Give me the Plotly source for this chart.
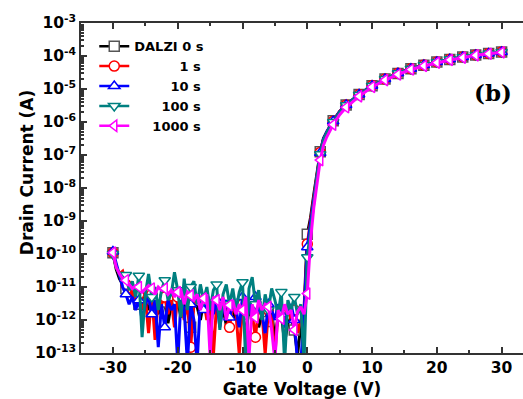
import plotly.graph_objects as go

# Gate voltage sweep (V)
v_off = [-30, -29.5, -29, -28.5, -28, -27.5, -27, -26.5, -26, -25.5,
         -25, -24.5, -24, -23.5, -23, -22.5, -22, -21.5, -21, -20.5,
         -20, -19.5, -19, -18.5, -18, -17.5, -17, -16.5, -16, -15.5,
         -15, -14.5, -14, -13.5, -13, -12.5, -12, -11.5, -11, -10.5,
         -10, -9.5, -9, -8.5, -8, -7.5, -7, -6.5, -6, -5.5,
         -5, -4.5, -4, -3.5, -3, -2.5, -2, -1.5, -1, -0.5,
         0]
v_on = [0.5, 1, 1.5, 2, 2.5, 3, 4, 5, 6, 8, 10, 12, 14, 16, 18, 20, 22, 24, 26, 28, 30]

# Drain current (A)
i_0s_off = [1.1e-10, 3.5e-11, 1.8e-11, 1.2e-11, 9e-12, 7e-12, 5e-12, 6e-12, 3e-12, 5e-12,
            4e-12, 2e-12, 4.5e-12, 3e-12, 1.5e-12, 4e-12, 3.5e-12, 8e-13, 3e-12, 2.5e-12,
            4e-12, 1.2e-12, 3e-12, 2e-12, 6e-13, 3e-12, 2.5e-12, 1e-12, 3.5e-12, 2e-12,
            5e-13, 2.5e-12, 3e-12, 1.5e-12, 2.2e-12, 7e-13, 2.5e-12, 1.8e-12, 1e-12, 2.8e-12,
            1.5e-12, 4e-13, 2e-12, 1.2e-12, 2.2e-12, 6e-13, 1.5e-12, 2e-12, 9e-13, 1.6e-12,
            3e-13, 1.2e-12, 1.5e-12, 2e-13, 8e-13, 1.2e-12, 5e-13, 9e-14, 7e-13, 2e-12,
            4e-10]
i_0s_on = [1.26e-9, 6.3e-9, 3.2e-8, 1.26e-7, 3.2e-7, 5e-7, 1.1e-6, 2.1e-6, 3.3e-6, 6.8e-6,
           1.26e-5, 2e-5, 2.95e-5, 4.1e-5, 5.2e-5, 6.6e-5, 7.9e-5, 9.3e-5, 1.07e-4, 1.2e-4, 1.32e-4]

i_1s_off = [1.1e-10, 4e-11, 2.5e-11, 3e-11, 1.2e-11, 5e-12, 8e-12, 3e-12, 6e-12, 2e-12,
            5e-12, 4e-13, 6e-12, 2.5e-13, 4e-12, 3e-12, 5e-12, 1.5e-12, 4e-12, 6e-13,
            5e-12, 3e-12, 1e-12, 4e-12, 1.5e-13, 3e-12, 6e-12, 2e-12, 4e-12, 1e-12,
            3.5e-12, 8e-14, 3e-12, 2e-12, 4.5e-12, 2e-12, 6e-13, 3e-12, 1.5e-12, 9e-14,
            3e-12, 2e-12, 3.5e-12, 1.5e-12, 3e-13, 2.5e-12, 1.8e-12, 9e-14, 2e-12, 1.2e-12,
            8e-14, 2e-12, 1.5e-12, 6e-13, 2.5e-12, 1e-12, 2e-12, 4e-13, 1e-12, 1.5e-12,
            2e-10]
i_1s_on = [1e-9, 5.5e-9, 2.8e-8, 1.2e-7, 3e-7, 5e-7, 1.05e-6, 2.1e-6, 3.3e-6, 6.8e-6,
           1.27e-5, 2e-5, 3e-5, 4.1e-5, 5.3e-5, 6.6e-5, 8e-5, 9.3e-5, 1.08e-4, 1.2e-4, 1.33e-4]

i_10s_off = [1.2e-10, 5e-11, 2e-11, 1e-11, 6e-12, 3e-12, 5e-12, 2e-12, 4e-12, 1e-12,
             3e-12, 5e-12, 1.5e-12, 4e-12, 1.5e-13, 3e-12, 6e-13, 4e-12, 2e-12, 3e-12,
             5e-14, 4e-12, 2e-12, 5e-14, 3e-12, 1e-12, 5e-14, 4e-12, 2e-12, 6e-12,
             3e-12, 1.5e-12, 4e-12, 6e-13, 2.5e-12, 4e-12, 1.2e-12, 3e-12, 2e-12, 6e-13,
             5e-12, 2e-12, 3.5e-12, 1e-12, 5e-12, 2e-12, 1.5e-12, 4e-13, 3e-12, 2e-12,
             1e-12, 3e-12, 1.5e-12, 6e-13, 2e-12, 3e-12, 1e-12, 5e-14, 5e-14, 1.5e-12,
             1.6e-10]
i_10s_on = [9e-10, 5e-9, 2.6e-8, 1.15e-7, 3e-7, 5e-7, 1.05e-6, 2.05e-6, 3.3e-6, 6.8e-6,
            1.26e-5, 2e-5, 3e-5, 4.1e-5, 5.3e-5, 6.6e-5, 8e-5, 9.3e-5, 1.07e-4, 1.2e-4, 1.33e-4]

i_100s_off = [1e-10, 4e-11, 2.5e-11, 1.5e-11, 2.3e-11, 8e-12, 1.5e-11, 5e-12, 2.2e-11, 3e-13,
              6e-12, 2.5e-11, 5e-12, 1e-11, 2e-12, 8e-12, 1.6e-11, 4e-12, 6e-12, 2.8e-11,
              8e-12, 1.2e-12, 1.8e-11, 2e-12, 1e-11, 1.5e-11, 3e-12, 1.2e-11, 4e-12, 1e-11,
              2e-12, 8e-12, 1.2e-11, 5e-13, 6e-12, 1.2e-11, 3e-12, 9e-12, 2e-12, 7e-12,
              1.4e-11, 5e-14, 9e-12, 2e-11, 3e-12, 8e-12, 1e-12, 6e-12, 2e-12, 9e-12,
              4e-12, 1.5e-12, 7e-12, 5e-14, 4e-12, 2e-12, 5e-12, 1.5e-12, 3e-12, 5e-14,
              8e-11]
i_100s_on = [6e-10, 4e-9, 2.2e-8, 1.05e-7, 2.8e-7, 4.8e-7, 1e-6, 2e-6, 3.2e-6, 6.7e-6,
             1.25e-5, 2e-5, 3e-5, 4.1e-5, 5.3e-5, 6.6e-5, 8e-5, 9.3e-5, 1.07e-4, 1.2e-4, 1.32e-4]

i_1000s_off = [1.1e-10, 4e-11, 2.5e-11, 1.8e-11, 1.6e-11, 1.2e-11, 9e-12, 1.1e-11, 1e-11, 7e-12,
               9e-12, 1.1e-11, 9e-12, 6e-12, 1e-11, 8e-12, 9e-12, 6e-12, 8e-12, 5e-12,
               7e-12, 8e-12, 3e-12, 7e-12, 5.6e-12, 4e-12, 6e-12, 2e-12, 4.5e-12, 6e-12,
               8e-14, 5e-12, 4e-12, 2e-12, 5e-12, 1e-12, 2.8e-12, 4e-12, 1.5e-12, 3e-12,
               2e-12, 5e-12, 7e-14, 3e-12, 1.2e-12, 4e-12, 2e-12, 3e-12, 2.5e-12, 5e-13,
               6e-14, 2e-12, 1.1e-12, 3e-12, 1.5e-12, 2e-12, 5e-13, 1.8e-12, 2.5e-12, 1.5e-12,
               6.3e-12]
i_1000s_on = [2.5e-10, 2.5e-9, 1.4e-8, 7e-8, 2e-7, 3.5e-7, 8.3e-7, 1.66e-6, 2.8e-6, 6e-6,
              1.15e-5, 1.86e-5, 2.75e-5, 3.9e-5, 5e-5, 6.3e-5, 7.6e-5, 8.9e-5, 1.05e-4, 1.17e-4, 1.29e-4]

# Axis ticks and labels
x_tickvals = [-30, -20, -10, 0, 10, 20, 30]
x_ticktext = ["-30", "-20", "-10", "0", "10", "20", "30"]
y_tickvals = [1e-13, 1e-12, 1e-11, 1e-10, 1e-9, 1e-8, 1e-7, 1e-6, 1e-5, 1e-4, 1e-3]
y_ticktext = ["10<sup>-13</sup>", "10<sup>-12</sup>", "10<sup>-11</sup>", "10<sup>-10</sup>",
              "10<sup>-9</sup>", "10<sup>-8</sup>", "10<sup>-7</sup>", "10<sup>-6</sup>",
              "10<sup>-5</sup>", "10<sup>-4</sup>", "10<sup>-3</sup>"]

NB = "\u00a0"
series_names = ["DALZI 0 s", NB * 10 + "1 s", NB * 8 + "10 s", NB * 6 + "100 s", NB * 4 + "1000 s"]
series_colors = ["#000000", "#ff0000", "#0000ff", "#008080", "#ff00ff"]
series_symbols = ["square", "circle", "triangle-up", "triangle-down", "triangle-left"]
series_marker_line = ["#555555", "#ff0000", "#0000ff", "#008080", "#ff00ff"]
series_off = [i_0s_off, i_1s_off, i_10s_off, i_100s_off, i_1000s_off]
series_on = [i_0s_on, i_1s_on, i_10s_on, i_100s_on, i_1000s_on]

FONT = "DejaVu Sans, Arial, sans-serif"

fig = go.Figure()
v_all = v_off + v_on
for name, col, sym, mcol, off, on in zip(series_names, series_colors, series_symbols,
                                         series_marker_line, series_off, series_on):
    cur = off + on
    fig.add_trace(go.Scatter(x=v_all, y=cur, mode="lines", line=dict(color=col, width=3),
                             showlegend=False, hoverinfo="skip"))
    mx = [x for x in v_all if x % 2 == 0]
    my = [y for x, y in zip(v_all, cur) if x % 2 == 0]
    fig.add_trace(go.Scatter(x=mx, y=my, mode="markers",
                             marker=dict(symbol=sym, size=10, color="white",
                                         line=dict(color=mcol, width=1.5)),
                             showlegend=False, hoverinfo="skip"))
    fig.add_trace(go.Scatter(x=[None], y=[None], mode="lines+markers", name=name,
                             line=dict(color=col, width=2.5),
                             marker=dict(symbol=sym, size=10, color="white",
                                         line=dict(color=mcol, width=1.5))))

fig.add_annotation(text="<b>(b)</b>", xref="paper", yref="paper", x=0.932, y=0.788,
                   xanchor="center", yanchor="middle", showarrow=False,
                   font=dict(family="DejaVu Serif, Times New Roman, serif",
                             size=23, color="black"))
fig.add_annotation(text="<b>Drain Current (A)</b>", xref="paper", yref="paper",
                   x=-0.122, y=0.548, xanchor="center", yanchor="middle",
                   textangle=-90, showarrow=False,
                   font=dict(family=FONT, size=17, color="black"))

tickfont = dict(family=FONT, size=15.5, color="black", weight="bold")

fig.update_xaxes(range=[-34.93, 33.3], tickmode="array", tickvals=x_tickvals,
                 ticktext=x_ticktext, ticks="inside", ticklen=6,
                 tickwidth=1.5, tickcolor="#333", showline=True, linecolor="#333",
                 linewidth=1.5, mirror="ticks", showgrid=False, zeroline=False,
                 automargin=False,
                 minor=dict(ticks="inside", dtick=5, tick0=0, ticklen=3, tickcolor="#333"),
                 tickfont=tickfont,
                 title=dict(text="<b>Gate Voltage (V)</b>", standoff=10,
                            font=dict(family=FONT, size=17, color="black")))
fig.update_yaxes(type="log", range=[-13, -3], tickmode="array", tickvals=y_tickvals,
                 ticktext=y_ticktext,
                 ticks="inside", ticklen=6, tickwidth=1.5, tickcolor="#333",
                 showline=True, linecolor="#333", linewidth=1.5, showgrid=False,
                 zeroline=False, automargin=False,
                 minor=dict(ticks="inside", ticklen=3, tickcolor="#333", dtick="D1"),
                 tickfont=tickfont)

fig.update_layout(width=523, height=399, margin=dict(l=81, r=0, t=23, b=46, autoexpand=False),
                  plot_bgcolor="white", paper_bgcolor="white",
                  font=dict(family=FONT, color="black"),
                  legend=dict(x=0.03, y=0.975, xanchor="left", yanchor="top",
                              bgcolor="rgba(0,0,0,0)", tracegroupgap=0,
                              font=dict(family=FONT, size=13, color="black", weight="bold")))
fig.write_html("out.html", config={"displayModeBar": False},
               post_script="document.body.style.margin='0';")
